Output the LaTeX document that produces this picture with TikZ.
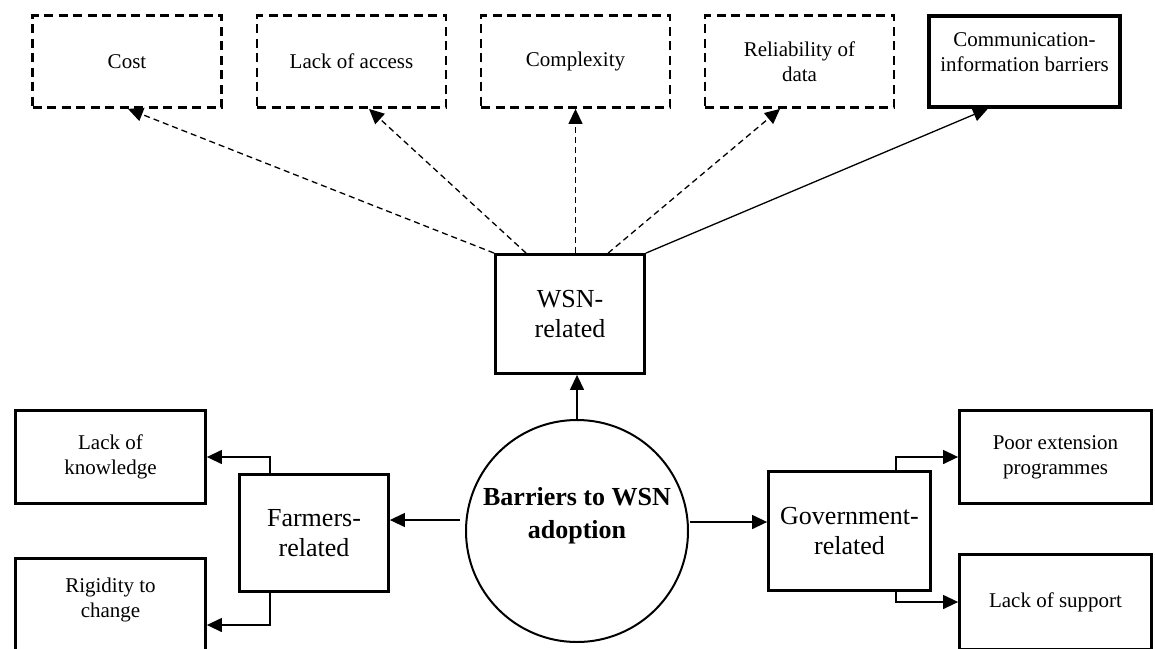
\documentclass[tikz,border=0pt]{standalone}
\usepackage{fontspec}
\setmainfont{Liberation Serif}
\usetikzlibrary{arrows.meta}
\newcommand\fsmall{\fontsize{21}{25}\selectfont}
\newcommand\fmid{\fontsize{26}{30}\selectfont}
\newcommand\fcirc{\fontsize{26}{33}\selectfont\bfseries}
\tikzset{
  boxbase/.style={draw, line width=2.8pt, inner sep=0pt, align=center},
  dbox/.style={boxbase, dash pattern=on 9pt off 5.5pt, minimum width=189pt, minimum height=92pt, font=\fsmall},
  sbox/.style={boxbase, minimum width=190pt, minimum height=93pt, font=\fsmall},
  midbox/.style={boxbase, font=\fmid},
  conn/.style={line width=1.3pt, -{Triangle[length=15pt,width=14pt]}},
  dconn/.style={conn, dash pattern=on 6pt off 4pt},
}
\begin{document}
\begin{tikzpicture}[x=1pt,y=-1pt]
\useasboundingbox (0,0) rectangle (1155,648);
% top row
\node[dbox] (cost) at (127,61.5) {Cost};
\node[dbox] (lack) at (351.5,61.5) {Lack of access};
\node[dbox] (cplx) at (575.5,61.5) {Complexity};
\node[dbox] (rel) at (799.5,61.5) {Reliability of\\data};
\node[boxbase, line width=3.2pt, minimum width=191pt, minimum height=91pt] (comm) at (1024.5,61.5) {};
\node[font=\fsmall, align=center, inner sep=0pt] (commtext) at (1024.5,52) {Communication-\\information barriers};
% middle
\node[midbox, minimum width=149pt, minimum height=119pt] (wsn) at (570,314) {WSN-\\related};
\node[draw, circle, line width=2pt, minimum size=222pt, inner sep=0pt] (circ) at (577,531) {};
\node[font=\fcirc, align=center, inner sep=0pt] (circtext) at (577,516) {Barriers to WSN\\adoption};
% left
\node[sbox, minimum width=190pt, minimum height=93pt] (know) at (110.5,457) {Lack of\\knowledge};
\node[sbox, minimum width=190pt, minimum height=93pt] (rig) at (110.5,605) {Rigidity to\\change\\[-11pt]};
\node[midbox, minimum width=149pt, minimum height=117pt] (farm) at (314,533) {Farmers-\\related};
% right
\node[midbox, minimum width=162pt, minimum height=119pt] (gov) at (849.5,531) {Government-\\related};
\node[sbox, minimum width=192pt, minimum height=93pt] (pext) at (1055.5,457) {Poor extension\\programmes};
\node[sbox, minimum width=192pt, minimum height=95pt] (sup) at (1055.5,602) {Lack of support};
% connectors top
\draw[dconn] (wsn.north west) -- ([xshift=1pt]cost.south);
\draw[dconn] ([xshift=32pt]wsn.north west) -- ([xshift=17.5pt]lack.south);
\draw[dconn] (cplx.south |- wsn.north) -- (cplx.south);
\draw[dconn] ([xshift=114pt]wsn.north west) -- ([xshift=-19.5pt]rel.south);
\draw[conn] (wsn.north east) -- ([xshift=-36.5pt]comm.south);
% circle connectors
\draw[conn] (circ.north) -- (circ.north |- wsn.south);
\coordinate (fstart) at (460,520);
\draw[conn] (fstart) -- (fstart -| farm.east);
\coordinate (gstart) at (690,522);
\draw[conn] (gstart) -- (gstart -| gov.west);
% elbow connectors
\draw[conn] ([xshift=32pt]farm.north west) |- (know.east);
\draw[conn] ([xshift=32pt]farm.south west) |- ([yshift=-20pt]rig.east);
\draw[conn] ([xshift=-36pt]gov.north east) |- (pext.west);
\draw[conn] ([xshift=-36pt]gov.south east) |- (sup.west);
\end{tikzpicture}
\end{document}
